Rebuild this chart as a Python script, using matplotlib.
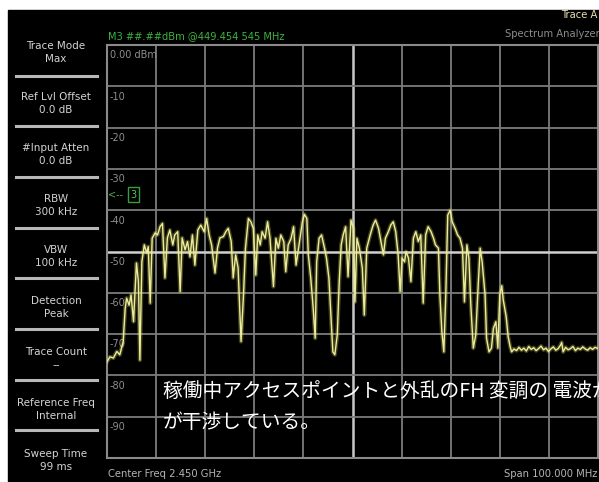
import numpy as np
import matplotlib
matplotlib.use('Agg')
import matplotlib.pyplot as plt
from matplotlib.patches import Rectangle

# trace: frequency offset from 2400 MHz and level in dBm (max hold)
freq_mhz = [0.0, 0.6, 1.3, 2.0, 2.6, 3.3, 3.7, 4.0, 4.5, 4.9, 5.4, 5.7, 6.0, 6.4, 6.7,
            7.1, 7.6, 8.1, 8.4, 8.8, 9.2, 9.8, 10.3, 10.8, 11.3, 11.8, 12.3, 12.8, 13.4,
            13.8, 14.4, 14.9, 15.3, 15.9, 16.4, 16.9, 17.4, 17.9, 18.5, 19.1, 19.8, 20.3,
            20.8, 21.3, 22.0, 22.5, 23.0, 23.7, 24.2, 24.7, 25.3, 25.7, 26.2, 26.7, 27.3,
            27.8, 28.2, 28.8, 29.3, 29.8, 30.3, 30.7, 31.2, 31.6, 32.2, 32.7, 33.2, 33.9,
            34.4, 34.9, 35.4, 36.0, 36.4, 36.9, 37.5, 38.0, 38.5, 39.1, 39.8, 40.2, 40.7,
            41.0, 41.5, 42.0, 42.4, 42.7, 43.2, 43.7, 44.3, 44.7, 45.2, 45.6, 46.0, 46.4,
            46.9, 47.3, 47.7, 48.1, 48.6, 49.1, 49.7, 50.2, 50.5, 50.9, 51.4, 52.0, 52.4,
            52.9, 53.6, 54.2, 54.7, 55.3, 55.8, 56.3, 56.7, 57.3, 57.8, 58.3, 58.8, 59.3,
            59.7, 60.1, 60.6, 60.9, 61.4, 61.9, 62.4, 62.9, 63.4, 63.9, 64.4, 64.9, 65.4,
            66.0, 66.5, 66.9, 67.5, 67.8, 68.2, 68.6, 69.0, 69.4, 69.9, 70.3, 70.9, 71.4,
            71.9, 72.4, 72.8, 73.3, 73.7, 74.1, 74.6, 75.1, 75.5, 76.0, 76.4, 77.0, 77.3,
            77.8, 78.3, 78.7, 79.2, 79.6, 80.0, 80.4, 80.7, 81.3, 81.7, 82.1, 82.4, 82.9,
            83.4, 83.9, 84.4, 84.9, 85.4, 85.9, 86.4, 86.9, 87.4, 87.9, 88.4, 88.9, 89.4,
            89.9, 90.4, 90.9, 91.4, 91.9, 92.4, 92.6, 92.9, 93.4, 93.9, 94.4, 94.9, 95.4,
            95.9, 96.4, 96.9, 97.4, 97.9, 98.4, 98.9, 99.4, 100.0]
level_dbm = [-76.7, -75.5, -75.8, -74.2, -75.0, -71.8, -63.8, -61.3, -63.0, -60.5, -67.0,
             -59.7, -52.8, -57.3, -76.3, -52.5, -48.4, -50.4, -48.8, -62.5, -46.8, -45.5,
             -46.0, -44.0, -43.2, -56.4, -46.7, -44.8, -48.4, -46.0, -45.2, -59.7, -46.7,
             -49.6, -47.6, -51.3, -46.0, -53.3, -44.8, -43.6, -45.2, -42.0, -46.0, -48.4,
             -55.2, -49.2, -46.7, -46.4, -45.2, -44.4, -47.6, -56.4, -50.8, -54.0, -71.8,
             -60.5, -49.2, -42.0, -42.8, -44.4, -55.7, -46.0, -48.4, -45.2, -46.8, -42.8,
             -46.8, -58.5, -46.8, -49.2, -46.0, -47.6, -54.9, -48.4, -46.8, -44.0, -53.3,
             -48.4, -42.8, -41.0, -42.0, -50.8, -56.4, -63.8, -71.0, -52.5, -46.8, -46.0,
             -49.2, -51.6, -56.5, -65.4, -74.3, -75.0, -70.2, -57.3, -48.4, -46.0, -44.0,
             -56.1, -42.4, -44.4, -62.2, -46.8, -49.2, -54.0, -65.4, -49.2, -46.0, -43.6,
             -42.4, -44.4, -47.6, -50.8, -46.8, -45.2, -43.6, -42.8, -45.2, -50.8, -59.7,
             -51.6, -52.5, -50.0, -51.6, -57.3, -46.8, -45.2, -47.6, -46.0, -62.5, -46.0,
             -44.0, -45.2, -46.8, -48.4, -49.2, -60.5, -69.4, -74.3, -60.5, -41.2, -40.0,
             -42.8, -44.4, -46.0, -46.8, -49.2, -62.2, -48.4, -51.6, -63.0, -73.4, -70.2,
             -60.5, -49.2, -52.5, -60.5, -71.0, -74.3, -73.4, -68.6, -67.0, -73.4, -60.5,
             -58.3, -61.7, -65.8, -70.6, -73.0, -74.3, -73.6, -74.0, -73.2, -73.9, -73.4,
             -74.1, -73.0, -73.7, -73.3, -74.0, -73.5, -72.9, -73.8, -73.4, -74.2, -73.6,
             -73.1, -73.9, -73.5, -72.6, -72.0, -74.3, -73.2, -73.8, -73.5, -73.0, -74.0,
             -73.4, -73.7, -73.1, -73.6, -73.9, -73.3, -73.7, -73.2, -73.5]

center_mhz = 2450.0
span_mhz = 100.0
ref_level = 0.0
db_per_div = 10

panel_labels = ['Trace Mode', 'Ref Lvl Offset', '#Input Atten', 'RBW', 'VBW',
                'Detection', 'Trace Count', 'Reference Freq', 'Sweep Time']
panel_values = ['Max', '0.0 dB', '0.0 dB', '300 kHz', '100 kHz',
                'Peak', '--', 'Internal', '99 ms']

W, H = 599, 482
def px(x):
    return x / W
def py(y):
    return 1 - y / H

fig = plt.figure(figsize=(W / 100, H / 100), dpi=100, facecolor='white')
fig.patches.append(Rectangle((px(8), 0), 1 - px(8), py(10), transform=fig.transFigure,
                             color='black', zorder=-10))

ax = fig.add_axes([px(107), py(458), px(598) - px(107), py(45) - py(458)])
ax.set_facecolor('black')
f0 = center_mhz - span_mhz / 2
ax.set_xlim(f0, f0 + span_mhz)
ax.set_ylim(ref_level - 10 * db_per_div, ref_level)
ax.set_xticks([])
ax.set_yticks([])
for s in ax.spines.values():
    s.set_color('#8a8a8a')
    s.set_linewidth(1.5)

grid = '#7c7c7c'
for f in np.linspace(f0, f0 + span_mhz, 11)[1:-1]:
    c = '#c8c8c8' if f == center_mhz else grid
    ax.axvline(f, color=c, lw=1.8 if f == center_mhz else 1.3, zorder=1)
for lv in np.arange(ref_level - 10 * db_per_div, ref_level, db_per_div)[1:]:
    c = '#d0d0d0' if lv == -50 else grid
    ax.axhline(lv, color=c, lw=1.8 if lv == -50 else 1.3, zorder=1)

for i in range(10):
    lv = ref_level - i * db_per_div
    txt = '0.00 dBm' if i == 0 else '%d' % lv
    ax.text(f0 + 0.6, lv - 1.3, txt, color='#8e8e8e', fontsize=7, va='top', ha='left',
            zorder=2)

fx = [f0 + f for f in freq_mhz]
ax.plot(fx, level_dbm, color='#d8d860', lw=3.0, alpha=0.3, zorder=3)
ax.plot(fx, level_dbm, color='#ecec9a', lw=1.0, zorder=4)

# marker 3 off-screen indicator
ax.text(f0 + 0.3, -36.3, '<--', color='#58a858', fontsize=7, va='center', ha='left', zorder=5)
ax.text(f0 + 5.4, -36.3, '3', color='#58c858', fontsize=7, va='center', ha='center', zorder=5,
        bbox=dict(boxstyle='square,pad=0.25', facecolor='black', edgecolor='#3c9c3c', lw=1))

# left settings panel
for i, (lab, val) in enumerate(zip(panel_labels, panel_values)):
    fig.text(px(56), py(52.5 + i * 51), lab + '\n' + val, color='#d4d4d4', fontsize=7.5,
             ha='center', va='center', linespacing=1.3)
for i in range(8):
    y = py(75.5 + i * 50.7)
    fig.add_artist(plt.Line2D([px(16), px(97)], [y, y], color='#b8b8b8', lw=2.2))

# header and footer
fig.text(px(108), py(36), 'M3 ##.##dBm @449.454 545 MHz', color='#3cb43c', fontsize=7.1,
         ha='left', va='center')
fig.text(px(561), py(15), 'Trace A', color='#e8e0b4', fontsize=7.2, ha='left', va='center')
fig.text(px(505), py(34), 'Spectrum Analyzer', color='#8c8c8c', fontsize=7.2, ha='left',
         va='center')
fig.text(px(108), py(474), 'Center Freq %.3f GHz' % (center_mhz / 1000), color='#b4b4b4',
         fontsize=7.2, ha='left', va='center')
fig.text(px(597), py(474), 'Span %.3f MHz' % span_mhz, color='#b4b4b4', fontsize=7.2,
         ha='right', va='center')

# annotation
jp = ['Noto Sans CJK JP', 'DejaVu Sans']
fig.text(px(163), py(392), '稼働中アクセスポイントと外乱のFH 変調の 電波が', color='white',
         fontsize=14.2, family=jp, ha='left', va='center', zorder=10)
fig.text(px(163), py(423), 'が干渉している。', color='white', fontsize=14.2, family=jp,
         ha='left', va='center', zorder=10)

fig.savefig('out.png', dpi=100, facecolor=fig.get_facecolor())
